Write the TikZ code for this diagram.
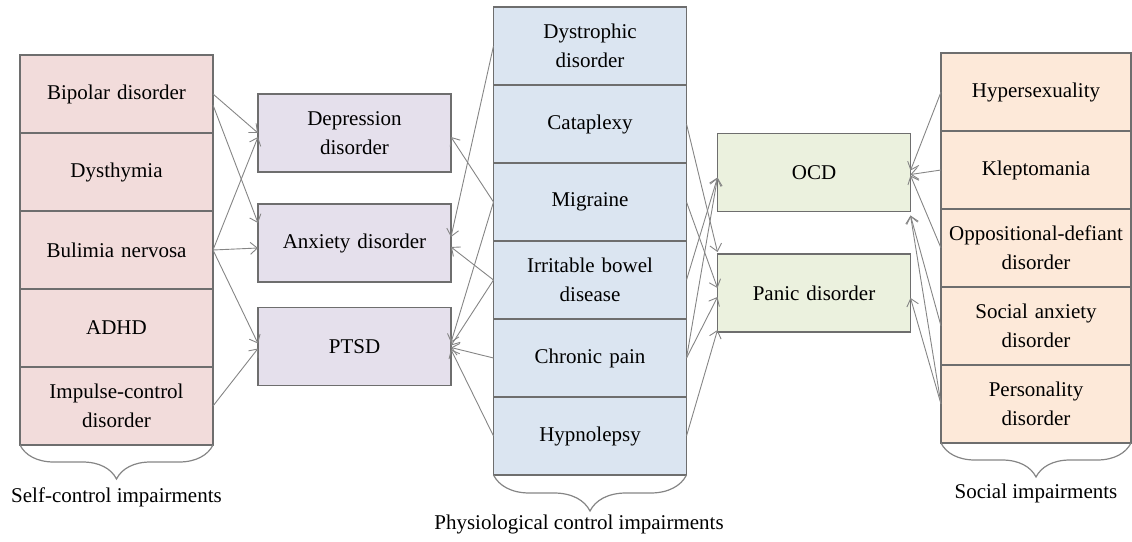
\documentclass[tikz,border=0pt]{standalone}
\usepackage{fontspec}
\setmainfont{Liberation Serif}
\usepackage{tikz}
\usetikzlibrary{arrows.meta,positioning,calc,decorations.pathreplacing}
\definecolor{selfpink}{HTML}{F2DCDB}
\definecolor{moodlilac}{HTML}{E5E0EC}
\definecolor{physblue}{HTML}{DBE5F1}
\definecolor{fearGreen}{HTML}{EBF1DE}
\definecolor{socialpeach}{HTML}{FDE9D9}
\definecolor{cellline}{HTML}{6E6E6E}
\definecolor{linkgray}{HTML}{858585}
\tikzset{
  cell/.style={draw=cellline, line width=1.2pt, minimum width=193pt, minimum height=78pt,
    text width=188pt, align=center, inner sep=0pt, outer sep=0pt,
    font=\fontsize{21}{29}\selectfont},
  selfcell/.style={cell, fill=selfpink},
  moodcell/.style={cell, fill=moodlilac},
  physcell/.style={cell, fill=physblue},
  fearcell/.style={cell, fill=fearGreen},
  socialcell/.style={cell, fill=socialpeach, minimum width=190pt},
  link/.style={draw=linkgray, line width=0.9pt, -{Straight Barb[length=7pt,width=12pt]}},
  grp/.style={draw=linkgray, line width=1.2pt, decorate, decoration={brace, mirror, amplitude=#1}},
  grplabel/.style={inner sep=0pt, font=\fontsize{21}{25}\selectfont}
}
\begin{document}
\begin{tikzpicture}[x=1pt,y=1pt]
\useasboundingbox (0,0) rectangle (1132,-541);
\node[selfcell] (bipolar) at (116.5,-94) {Bipolar disorder};
\node[selfcell, below=0pt of bipolar] (dysthymia) {Dysthymia};
\node[selfcell, below=0pt of dysthymia] (bulimia) {Bulimia nervosa};
\node[selfcell, below=0pt of bulimia] (adhd) {ADHD};
\node[selfcell, below=0pt of adhd] (impulse) {Impulse-control\\disorder};

\node[moodcell] (depression) at (354.5,-133) {Depression\\disorder};
\node[moodcell] (anxiety) at (354.5,-243) {Anxiety disorder};
\node[moodcell] (ptsd) at (354.5,-346.5) {PTSD};

\node[physcell] (dystrophic) at (590,-46) {Dystrophic\\disorder};
\node[physcell, below=0pt of dystrophic] (cataplexy) {Cataplexy};
\node[physcell, below=0pt of cataplexy] (migraine) {Migraine};
\node[physcell, below=0pt of migraine] (ibd) {Irritable bowel\\disease};
\node[physcell, below=0pt of ibd] (chronic) {Chronic pain};
\node[physcell, below=0pt of chronic] (hypnolepsy) {Hypnolepsy};

\node[fearcell] (ocd) at (814,-172.5) {OCD};
\node[fearcell] (panic) at (814,-293) {Panic disorder};

\node[socialcell] (hyper) at (1036,-92) {Hypersexuality};
\node[socialcell, below=0pt of hyper] (klepto) {Kleptomania};
\node[socialcell, below=0pt of klepto] (oppositional) {Oppositional-defiant\\disorder};
\node[socialcell, below=0pt of oppositional] (socanx) {Social anxiety\\disorder};
\node[socialcell, below=0pt of socanx] (personality) {Personality\\disorder};

\draw[link] (bipolar.east) -- (depression.west);
\draw[link] ([yshift=-11pt]bipolar.east) -- ([yshift=20pt]anxiety.west);
\draw[link] (bulimia.east) -- ([yshift=-4pt]depression.west);
\draw[link] (bulimia.east) -- ([yshift=-5pt]anxiety.west);
\draw[link] (bulimia.east) -- ([yshift=3pt]ptsd.west);
\draw[link] (impulse.east) -- ([yshift=-2pt]ptsd.west);

\draw[link] (dystrophic.west) -- ([yshift=6pt]anxiety.east);
\draw[link] (migraine.west) -- ([yshift=-4pt]depression.east);
\draw[link] (migraine.west) -- ([yshift=4pt]ptsd.east);
\draw[link] (ibd.west) -- ([yshift=-4pt]anxiety.east);
\draw[link] (ibd.west) -- ([yshift=1pt]ptsd.east);
\draw[link] (chronic.west) -- ([yshift=-1pt]ptsd.east);
\draw[link] (hypnolepsy.west) -- ([yshift=-3pt]ptsd.east);

\draw[link] (cataplexy.east) -- ([yshift=2pt]panic.north west);
\draw[link] (migraine.east) -- ([yshift=5pt]panic.west);
\draw[link] (ibd.east) -- ([yshift=-5pt]ocd.west);
\draw[link] (chronic.east) -- ([yshift=-5pt]ocd.west);
\draw[link] (chronic.east) -- ([yshift=-4pt]panic.west);
\draw[link] (hypnolepsy.east) -- ([yshift=2pt]panic.south west);

\draw[link] (hyper.west) -- ([yshift=2pt]ocd.east);
\draw[link] (klepto.west) -- ([yshift=-2pt]ocd.east);
\draw[link] (oppositional.west) -- ([yshift=-3pt]ocd.east);
\draw[link] (socanx.west) -- ([yshift=-4pt]ocd.south east);
\draw[link] (personality.west) -- ([yshift=-4pt]ocd.south east);
\draw[link] (personality.west) -- ([yshift=-5pt]panic.east);

\draw[grp=34pt] (impulse.south west) -- (impulse.south east);
\draw[grp=36pt] (hypnolepsy.south west) -- (hypnolepsy.south east);
\draw[grp=34pt] (personality.south west) -- (personality.south east);

\node[grplabel, below=43pt of impulse] (selflabel) {Self-control impairments};
\node[grplabel, below=40pt of hypnolepsy, xshift=-11pt] (physlabel) {Physiological control impairments};
\node[grplabel, below=41pt of personality] (sociallabel) {Social impairments};
\end{tikzpicture}
\end{document}
